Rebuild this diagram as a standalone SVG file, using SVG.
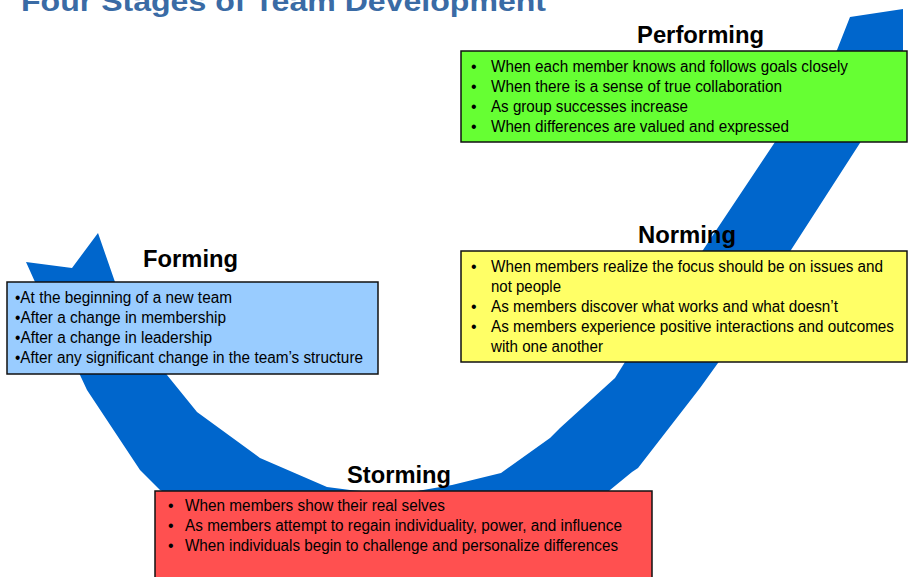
<svg xmlns="http://www.w3.org/2000/svg" width="921" height="577" viewBox="0 0 921 577">
  <style>
    .title { font-family: "Liberation Sans", Arial, sans-serif; font-weight: bold; font-size: 28px; fill: #3A6BA5; }
    .head { font-family: "Liberation Sans", Arial, sans-serif; font-weight: bold; font-size: 24px; fill: #000; }
    .body { font-family: "Liberation Sans", Arial, sans-serif; font-size: 16px; fill: #000; }
    .box { stroke: #111; stroke-width: 1.5; }
    .swoosh { fill: #0066CC; }
  </style>

  <rect width="921" height="577" fill="#fff"/>

  <!-- page title, partly above the top edge -->
  <text class="title" x="21" y="11" textLength="525" lengthAdjust="spacingAndGlyphs">Four Stages of Team Development</text>

  <!-- the blue swoosh running through the four stages -->
  <g id="connectors">
    <path class="swoosh" d="M98,233 L72,268 L26,262 L35,282 L60,340 L80,375 L87,390 L140,470 L160,490 L220,520 L320,550 L420,555 L520,540 L600,500 L610,490 L632,472 L638,468 L700,388 L718,363 L791,250 L860,143 L903,60 L903,9 L850,17 L837,50 L775,142 L703,250 L625,362 L615,378 L560,428 L550,438 L501,473 L452,485 L400,494 L350,490 L327,487 L260,458 L197,412 L167,375 L140,330 L115,282 Z"/>
  </g>

  <!-- Forming -->
  <g id="forming">
    <rect class="box" x="7" y="282" width="371" height="92" fill="#99CCFF"/>
    <text class="head" x="143" y="267" textLength="95" lengthAdjust="spacingAndGlyphs">Forming</text>
    <text class="body" x="15" y="303" textLength="217" lengthAdjust="spacingAndGlyphs">•At the beginning of a new team</text>
    <text class="body" x="15" y="323" textLength="211" lengthAdjust="spacingAndGlyphs">•After a change in membership</text>
    <text class="body" x="15" y="343" textLength="197" lengthAdjust="spacingAndGlyphs">•After a change in leadership</text>
    <text class="body" x="15" y="363" textLength="348" lengthAdjust="spacingAndGlyphs">•After any significant change in the team’s structure</text>
  </g>

  <!-- Storming -->
  <g id="storming">
    <rect class="box" x="155" y="491" width="497" height="100" fill="#FF5050"/>
    <text class="head" x="347" y="483" textLength="104" lengthAdjust="spacingAndGlyphs">Storming</text>
    <text class="body" x="168" y="511">•</text>
    <text class="body" x="185" y="511" textLength="260" lengthAdjust="spacingAndGlyphs">When members show their real selves</text>
    <text class="body" x="168" y="531">•</text>
    <text class="body" x="185" y="531" textLength="437" lengthAdjust="spacingAndGlyphs">As members attempt to regain individuality, power, and influence</text>
    <text class="body" x="168" y="551">•</text>
    <text class="body" x="185" y="551" textLength="433" lengthAdjust="spacingAndGlyphs">When individuals begin to challenge and personalize differences</text>
  </g>

  <!-- Norming -->
  <g id="norming">
    <rect class="box" x="461" y="251" width="446" height="111" fill="#FFFF66"/>
    <text class="head" x="638" y="243" textLength="98" lengthAdjust="spacingAndGlyphs">Norming</text>
    <text class="body" x="471" y="272">•</text>
    <text class="body" x="491" y="272" textLength="392" lengthAdjust="spacingAndGlyphs">When members realize the focus should be on issues and</text>
    <text class="body" x="491" y="292" textLength="70" lengthAdjust="spacingAndGlyphs">not people</text>
    <text class="body" x="471" y="312">•</text>
    <text class="body" x="491" y="312" textLength="347" lengthAdjust="spacingAndGlyphs">As members discover what works and what doesn’t</text>
    <text class="body" x="471" y="332">•</text>
    <text class="body" x="491" y="332" textLength="403" lengthAdjust="spacingAndGlyphs">As members experience positive interactions and outcomes</text>
    <text class="body" x="491" y="352" textLength="112" lengthAdjust="spacingAndGlyphs">with one another</text>
  </g>

  <!-- Performing -->
  <g id="performing">
    <rect class="box" x="461" y="51" width="446" height="91" fill="#66FF33"/>
    <text class="head" x="637" y="43" textLength="127" lengthAdjust="spacingAndGlyphs">Performing</text>
    <text class="body" x="471" y="72">•</text>
    <text class="body" x="491" y="72" textLength="357" lengthAdjust="spacingAndGlyphs">When each member knows and follows goals closely</text>
    <text class="body" x="471" y="92">•</text>
    <text class="body" x="491" y="92" textLength="291" lengthAdjust="spacingAndGlyphs">When there is a sense of true collaboration</text>
    <text class="body" x="471" y="112">•</text>
    <text class="body" x="491" y="112" textLength="197" lengthAdjust="spacingAndGlyphs">As group successes increase</text>
    <text class="body" x="471" y="132">•</text>
    <text class="body" x="491" y="132" textLength="298" lengthAdjust="spacingAndGlyphs">When differences are valued and expressed</text>
  </g>
</svg>
